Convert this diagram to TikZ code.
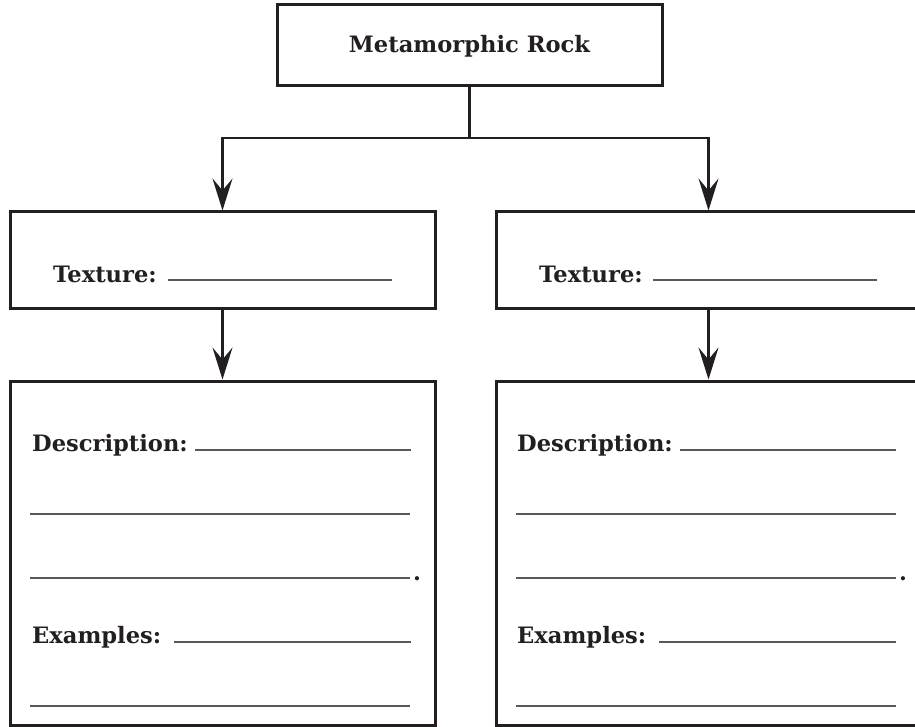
\documentclass[tikz,border=0pt]{standalone}
\usepackage{fontspec}
\setmainfont{DejaVu Serif}
\usetikzlibrary{arrows.meta}
\definecolor{ink}{HTML}{231F20}
\definecolor{rule}{HTML}{58595B}
\begin{document}
\begin{tikzpicture}[x=1pt,y=-1pt,
  box/.style={draw=ink, line width=3pt, minimum width=425pt, inner sep=0pt},
  lbl/.style={anchor=base west, inner sep=0pt, text=ink, font=\fontsize{22.6}{26}\selectfont\bfseries},
  blank/.style={draw=rule, line width=1.6pt},
  conn/.style={draw=ink, line width=2.2pt},
  arr/.style={conn, -{Stealth[length=32pt, width=20pt, inset=12pt]}}]
\useasboundingbox (0,0) rectangle (915,727);
\clip (0,0) rectangle (915,727);

% boxes
\node[box, minimum width=385pt, minimum height=81pt] (top) at (469.5,45.5) {};
\node[box, minimum height=96pt] (texL) at (222.5,260) {};
\node[box, minimum height=344pt] (descL) at (222.5,553) {};
\node[box, minimum height=96pt] (texR) at (708.5,260) {};
\node[box, minimum height=344pt] (descR) at (708.5,553) {};

% title
\node[anchor=base, inner sep=0pt, text=ink, font=\fontsize{22.6}{26}\selectfont\bfseries] (title) at (469.5,53) {Metamorphic Rock};

% connectors
\coordinate (split) at (top.south |- 0,138);
\draw[conn] (top.south) -- (split);
\draw[arr] (split) -| (texL.north);
\draw[arr] (split) -| (texR.north);
\draw[arr] (texL.south) -- (descL.north);
\draw[arr] (texR.south) -- (descR.north);

% left column
\node[lbl] (txL) at (53,282) {Texture:};
\draw[blank] (168,280) -- (392,280);
\node[lbl] (dsL) at (32,451) {Description:};
\draw[blank] (195,450) -- (411,450);
\draw[blank] (30,514) -- (410,514);
\draw[blank] (30,578) -- (410,578);
\node[lbl] (ptL) at (413,580) {.};
\node[lbl] (exL) at (32,643) {Examples:};
\draw[blank] (174,642) -- (411,642);
\draw[blank] (30,706) -- (410,706);

% right column
\node[lbl] (txR) at (539,282) {Texture:};
\draw[blank] (653,280) -- (877,280);
\node[lbl] (dsR) at (517,451) {Description:};
\draw[blank] (680,450) -- (896,450);
\draw[blank] (516,514) -- (896,514);
\draw[blank] (516,578) -- (896,578);
\node[lbl] (ptR) at (899,580) {.};
\node[lbl] (exR) at (517,643) {Examples:};
\draw[blank] (659,642) -- (896,642);
\draw[blank] (516,706) -- (896,706);
\end{tikzpicture}
\end{document}
